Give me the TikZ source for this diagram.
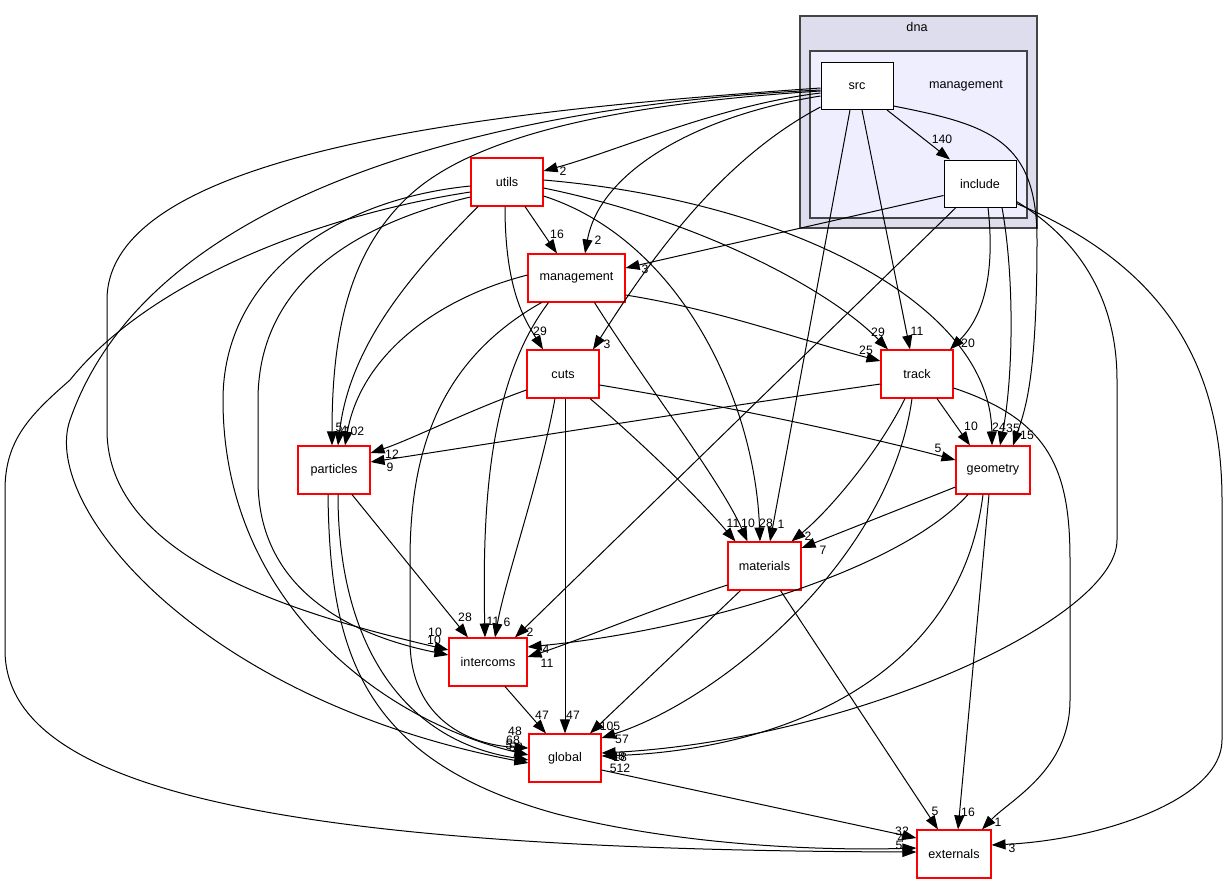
\documentclass[tikz,border=0pt]{standalone}
\usepackage{fontspec}
\setmainfont{Liberation Sans}
\usetikzlibrary{arrows.meta}
\definecolor{dnafill}{HTML}{DDDDEE}
\definecolor{mgfill}{HTML}{EEEEFF}
\definecolor{clline}{HTML}{444444}
\begin{document}
\begin{tikzpicture}[x=1pt,y=-1pt,
  dep/.style={draw=black, line width=1pt, -{Triangle[length=14pt,width=10pt]}},
  lbl/.style={font=\fontsize{12.2}{12}\selectfont, inner sep=0pt},
  dirred/.style={draw=red, fill=white, line width=1.1pt, minimum width=72pt, minimum height=48pt, inner sep=0pt, font=\fontsize{12.6}{14}\selectfont},
  dirblk/.style={dirred, draw=black, line width=1pt, minimum height=47pt},
  cluster/.style={draw=clline, line width=1.5pt}]
\useasboundingbox (0,0) rectangle (1227,884);
\fill[white] (0,0) rectangle (1227,884);
% clusters
\draw[cluster, fill=dnafill] (800,16) rectangle (1037,228);
\draw[cluster, fill=mgfill] (810,51) rectangle (1027,218);
\node[font=\fontsize{12.6}{14}\selectfont] (dnalbl) at (917,27) {dna};
\node[font=\fontsize{12.6}{14}\selectfont] (mglbl) at (966,86) {management};
% nodes
\node[dirblk] (src) at (857,86) {src};
\node[dirblk] (inc) at (980,183.5) {include};
\node[dirred] (utils) at (507,182) {utils};
\node[dirred, minimum width=97pt] (mgmt) at (576.5,278) {management};
\node[dirred] (cuts) at (563,374) {cuts};
\node[dirred] (track) at (917,374) {track};
\node[dirred] (parts) at (334,470) {particles};
\node[dirred, minimum width=74pt] (geom) at (993,470) {geometry};
\node[dirred, minimum width=73pt] (mats) at (764.5,566) {materials};
\node[dirred, minimum width=78pt] (inter) at (488,662) {intercoms};
\node[dirred] (glob) at (565,758) {global};
\node[dirred, minimum width=74pt] (ext) at (954,854) {externals};
% src edges
\draw[dep] ([xshift=30pt]src.south) -- ([xshift=-30pt]inc.north);
\draw[dep] ([yshift=-7pt]src.west) .. controls (720,105) and (620,150) .. ([yshift=11pt]utils.east);
\draw[dep] ([yshift=-10pt]src.west) .. controls (700,115) and (600,170) .. ([xshift=8.5pt]mgmt.north);
\draw[dep] ([yshift=-21pt]src.west) .. controls (720,160) and (650,260) .. ([xshift=30pt]cuts.north);
\draw[dep] ([xshift=5pt]src.south) -- ([xshift=-7pt]track.north);
\draw[dep] ([xshift=-7pt]src.south) -- ([xshift=5.5pt]mats.north);
\draw[dep] ([yshift=-20pt]src.east) .. controls (990,125) and (1037,140) .. (1037,240) .. controls (1037,380) and (1025,410) .. ([xshift=20pt]geom.north);
\draw[dep] ([yshift=-5pt]src.west) .. controls (600,105) and (470,140) .. (410,195) .. controls (350,250) and (332,330) .. ([xshift=-2pt]parts.north);
\draw[dep] ([yshift=-2pt]src.west) .. controls (500,110) and (107,150) .. (107,300) -- (107,430) .. controls (107,560) and (300,615) .. ([yshift=12pt]inter.west);
\draw[dep] ([yshift=-4pt]src.west) .. controls (500,105) and (150,190) .. (70,420) .. controls (40,506) and (200,700) .. ([yshift=-5pt]glob.west);
% include edges
\draw[dep] ([yshift=-12pt]inc.west) -- ([yshift=10pt]mgmt.east);
\draw[dep] ([xshift=-24pt]inc.south) -- ([xshift=27pt]inter.north);
\draw[dep] ([xshift=8pt]inc.south) .. controls (995,270) and (985,315) .. ([xshift=33pt]track.north);
\draw[dep] ([xshift=22pt]inc.south) .. controls (1015,280) and (1013,380) .. ([xshift=7pt]geom.north);
\draw[dep] ([yshift=-18pt]inc.east) .. controls (1080,240) and (1117,300) .. (1117,380) -- (1117,540) .. controls (1117,620) and (850,740) .. ([yshift=5pt]glob.east);
\draw[dep] ([yshift=-20pt]inc.east) .. controls (1150,260) and (1222,350) .. (1222,500) -- (1222,740) .. controls (1222,800) and (1100,840) .. ([yshift=9pt]ext.east);
% utils edges
\draw[dep] ([xshift=18pt]utils.south) -- ([xshift=-19.5pt]mgmt.north);
\draw[dep] ([xshift=-2pt]utils.south) .. controls (505,290) and (525,320) .. ([xshift=-20pt]cuts.north);
\draw[dep] ([yshift=-6pt]utils.east) .. controls (700,220) and (830,290) .. ([xshift=-29pt]track.north);
\draw[dep] ([yshift=2pt]utils.east) .. controls (780,200) and (990,300) .. ([xshift=-1pt]geom.north);
\draw[dep] ([yshift=-14pt]utils.east) .. controls (680,240) and (755,400) .. ([xshift=-4.5pt]mats.north);
\draw[dep] ([yshift=-4pt]utils.west) .. controls (330,200) and (223,280) .. (223,400) .. controls (223,600) and (380,720) .. ([yshift=3pt]glob.west);
\draw[dep] ([yshift=-10pt]utils.west) .. controls (320,215) and (150,280) .. (70,380) .. controls (30,415) and (5,440) .. (5,490) -- (5,650) .. controls (5,790) and (280,850) .. ([yshift=2pt]ext.west);
\draw[dep] ([yshift=-15pt]utils.west) .. controls (330,230) and (258,300) .. (258,400) -- (258,480) .. controls (258,590) and (350,635) .. ([yshift=7pt]inter.west);
\draw[dep] ([xshift=-29pt]utils.south) .. controls (420,265) and (350,340) .. ([xshift=4pt]parts.north);
% management edges
\draw[dep] ([yshift=-17pt]mgmt.east) .. controls (720,310) and (800,340) .. ([yshift=13pt]track.west);
\draw[dep] ([xshift=-28pt]mgmt.south) .. controls (490,380) and (482,500) .. ([xshift=-3pt]inter.north);
\draw[dep] ([xshift=18pt]mgmt.south) .. controls (650,390) and (720,480) .. ([xshift=-17pt]mats.north);
\draw[dep] ([xshift=-35pt]mgmt.south) .. controls (440,360) and (410,450) .. (410,560) -- (410,640) .. controls (410,720) and (470,745) .. ([yshift=10pt]glob.west);
\draw[dep] ([yshift=3pt]mgmt.west) .. controls (430,300) and (360,360) .. ([xshift=11pt]parts.north);
% cuts edges
\draw[dep] ([yshift=-16pt]cuts.west) .. controls (470,410) and (410,440) .. ([yshift=17pt]parts.east);
\draw[dep] ([xshift=-8pt]cuts.south) .. controls (540,480) and (505,580) .. ([xshift=7pt]inter.north);
\draw[dep] ([xshift=2pt]cuts.south) -- (glob.north);
\draw[dep] ([xshift=27pt]cuts.south) .. controls (650,450) and (700,500) .. ([xshift=-29pt]mats.north);
\draw[dep] ([yshift=-11pt]cuts.east) .. controls (750,410) and (880,440) .. ([yshift=10pt]geom.west);
% track edges
\draw[dep] ([yshift=-10pt]track.west) .. controls (700,410) and (450,450) .. ([yshift=8pt]parts.east);
\draw[dep] ([xshift=20pt]track.south) -- ([xshift=-23pt]geom.north);
\draw[dep] ([xshift=-12pt]track.south) .. controls (880,450) and (830,510) .. ([xshift=27pt]mats.north);
\draw[dep] ([xshift=-5pt]track.south) .. controls (890,560) and (720,700) .. ([yshift=20pt]glob.east);
\draw[dep] ([yshift=-14pt]track.east) .. controls (1050,420) and (1070,470) .. (1070,560) -- (1070,700) .. controls (1070,770) and (1010,800) .. ([xshift=28pt]ext.north);
% particles edges
\draw[dep] ([xshift=18pt]parts.south) -- ([xshift=-20pt]inter.north);
\draw[dep] ([xshift=4pt]parts.south) .. controls (338,640) and (400,740) .. ([yshift=-2pt]glob.west);
\draw[dep] ([xshift=-6pt]parts.south) .. controls (330,650) and (360,760) .. (557,814) .. controls (700,850) and (850,850) .. ([yshift=6pt]ext.west);
% geometry edges
\draw[dep] ([yshift=-17pt]geom.west) -- ([yshift=18pt]mats.east);
\draw[dep] ([xshift=-25pt]geom.south) .. controls (900,570) and (700,630) .. ([yshift=15pt]inter.east);
\draw[dep] ([xshift=-10pt]geom.south) .. controls (960,680) and (780,750) .. ([yshift=2pt]glob.east);
\draw[dep] ([xshift=-4pt]geom.south) -- ([xshift=4pt]ext.north);
% materials edges
\draw[dep] ([yshift=-19pt]mats.west) .. controls (650,610) and (580,640) .. ([yshift=5pt]inter.east);
\draw[dep] ([xshift=-24pt]mats.south) -- ([xshift=25pt]glob.north);
\draw[dep] ([xshift=16pt]mats.south) -- ([xshift=-16pt]ext.north);
% intercoms, global
\draw[dep] ([xshift=17pt]inter.south) -- ([xshift=-19pt]glob.north);
\draw[dep] ([yshift=-12pt]glob.east) -- ([yshift=16pt]ext.west);
% labels
\node[lbl] (l1) at (942,139) {140};
\node[lbl] (l2) at (563,171) {2};
\node[lbl] (l3) at (598,240) {2};
\node[lbl] (l4) at (607,344) {3};
\node[lbl] (l5) at (917,331) {11};
\node[lbl] (l6) at (781,524) {1};
\node[lbl] (l7) at (1027,435) {15};
\node[lbl] (l8) at (339,427) {5};
\node[lbl] (l9) at (344,430) {4};
\node[lbl] (l10) at (354,431) {102};
\node[lbl] (l11) at (435,632) {10};
\node[lbl] (l12) at (434,640) {10};
\node[lbl] (l13) at (645,269) {3};
\node[lbl] (l14) at (530,632) {2};
\node[lbl] (l15) at (968,343) {20};
\node[lbl] (l16) at (1013,428) {35};
\node[lbl] (l17) at (1012,848) {3};
\node[lbl] (l18) at (557,234) {16};
\node[lbl] (l19) at (540,331) {29};
\node[lbl] (l20) at (878,332) {29};
\node[lbl] (l21) at (999,427) {24};
\node[lbl] (l22) at (766,523) {28};
\node[lbl] (l23) at (866,350) {25};
\node[lbl] (l24) at (493,621) {11};
\node[lbl] (l25) at (748,523) {10};
\node[lbl] (l26) at (392,454) {12};
\node[lbl] (l27) at (507,622) {6};
\node[lbl] (l28) at (573,715) {47};
\node[lbl] (l29) at (733,523) {11};
\node[lbl] (l30) at (938,448) {5};
\node[lbl] (l31) at (390,467) {9};
\node[lbl] (l32) at (971,426) {10};
\node[lbl] (l33) at (808,536) {2};
\node[lbl] (l34) at (622,739) {57};
\node[lbl] (l35) at (998,822) {1};
\node[lbl] (l36) at (465,617) {28};
\node[lbl] (l37) at (823,550) {7};
\node[lbl] (l38) at (546,649) {4};
\node[lbl] (l39) at (968,812) {16};
\node[lbl] (l40) at (547,663) {11};
\node[lbl] (l41) at (610,726) {105};
\node[lbl] (l42) at (935,811) {5};
\node[lbl] (l43) at (542,715) {47};
\node[lbl] (l44) at (902,831) {32};
\node[lbl] (l45) at (901,838) {4};
\node[lbl] (l46) at (899,845) {5};
\node[lbl] (l47) at (618,756) {48};
\node[lbl] (l48) at (620,757) {18};
\node[lbl] (l49) at (620,768) {512};
\node[lbl] (l50) at (515,731) {48};
\node[lbl] (l51) at (513,740) {68};
\node[lbl] (l52) at (509,745) {5};
\node[lbl] (l53) at (516,747) {58};
\end{tikzpicture}
\end{document}
